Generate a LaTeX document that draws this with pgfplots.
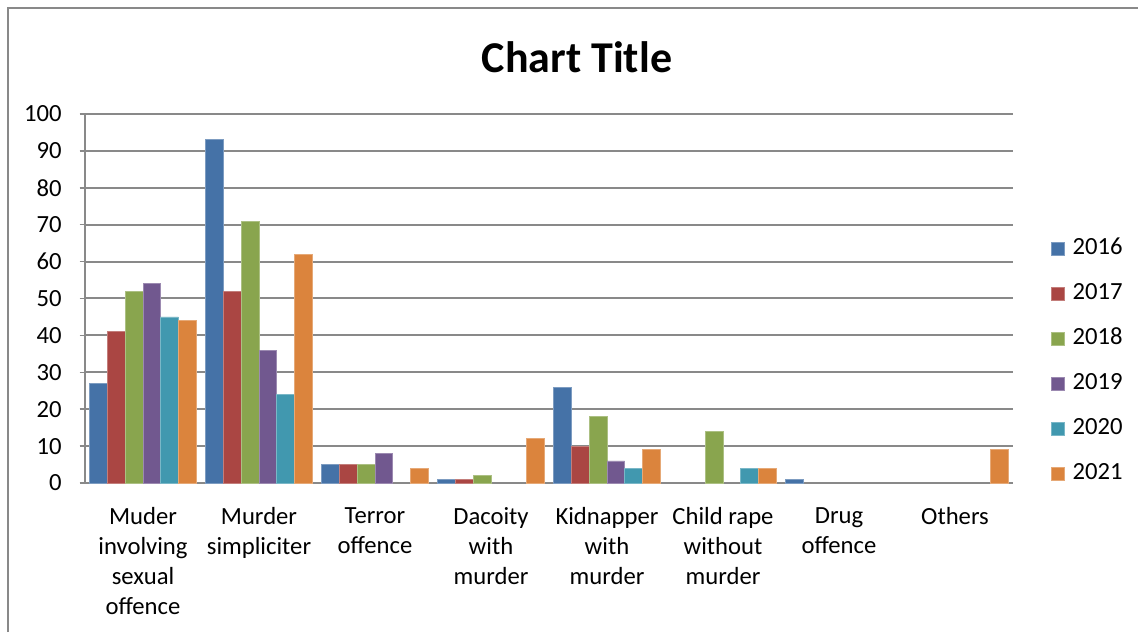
\documentclass[border=0pt]{standalone}
\usepackage{fontspec}
\setmainfont{Carlito}
\usepackage{pgfplots}
\pgfplotsset{compat=1.18}
\definecolor{c16}{HTML}{4572A7}
\definecolor{c17}{HTML}{AA4643}
\definecolor{c18}{HTML}{89A54E}
\definecolor{c19}{HTML}{71588F}
\definecolor{c20}{HTML}{4198AF}
\definecolor{c21}{HTML}{DB843D}
\definecolor{gridc}{HTML}{898989}
\begin{document}
\begin{tikzpicture}
\useasboundingbox (0,0) rectangle (853.5pt,474pt);
\fill[white] (0,0) rectangle (853.5pt,474pt);
\draw[gridc, line width=1.5pt] (6pt,0) -- (6pt,468pt) -- (853.5pt,468pt);
\node[font=\fontsize{33}{40}\selectfont\bfseries] at (432.75pt,431.25pt) {Chart Title};
\begin{axis}[
  at={(63.75pt,111.75pt)}, anchor=south west,
  scale only axis, width=696pt, height=276.75pt,
  xmin=-0.5, xmax=7.5, ymin=0, ymax=100,
  ybar=0pt, bar width=13.3pt,
  xtick={0,...,7},
  xticklabels={{Muder\\involving\\sexual\\offence},{Murder\\simpliciter},{Terror\\offence},{Dacoity\\with\\murder},{Kidnapper\\with\\murder},{Child rape\\without\\murder},{Drug\\offence},{Others}},
  ytick={0,10,...,100},
  axis x line*=bottom, axis y line*=left,
  axis line style={gridc, line width=1.5pt, -},
  ymajorgrids, grid style={gridc, line width=1.5pt},
  xtick style={draw=none},
  ytick style={gridc, line width=1.2pt},
  major tick length=4pt, tick align=outside,
  /pgf/number format/assume math mode=true,
  tick label style={font=\fontsize{18.5}{22.5}\selectfont},
  x tick label style={align=center, yshift=-11pt},
  y tick label style={xshift=-10pt},
  legend style={at={(1.036,0.33)}, anchor=west, draw=none, fill=none,
    font=\fontsize{18.5}{22.5}\selectfont, row sep=16.75pt,
    nodes={inner sep=0pt, text height=13pt, text depth=4pt}},
  legend cell align=left,
  legend image code/.code={\fill[#1] (0pt,-4.875pt) rectangle (9.75pt,4.875pt); \path (16pt,0pt);},
  every axis plot/.append style={line width=0.5pt},
]
\addplot[fill=c16, draw=c16!70!white] coordinates {(0,27) (1,93) (2,5) (3,1) (4,26) (6,1)};
\addplot[fill=c17, draw=c17!70!white] coordinates {(0,41) (1,52) (2,5) (3,1) (4,10)};
\addplot[fill=c18, draw=c18!70!white] coordinates {(0,52) (1,71) (2,5) (3,2) (4,18) (5,14)};
\addplot[fill=c19, draw=c19!70!white] coordinates {(0,54) (1,36) (2,8) (4,6)};
\addplot[fill=c20, draw=c20!70!white] coordinates {(0,45) (1,24) (4,4) (5,4)};
\addplot[fill=c21, draw=c21!70!white] coordinates {(0,44) (1,62) (2,4) (3,12) (4,9) (5,4) (7,9)};
\legend{2016,2017,2018,2019,2020,2021}
\end{axis}
\end{tikzpicture}
\end{document}
